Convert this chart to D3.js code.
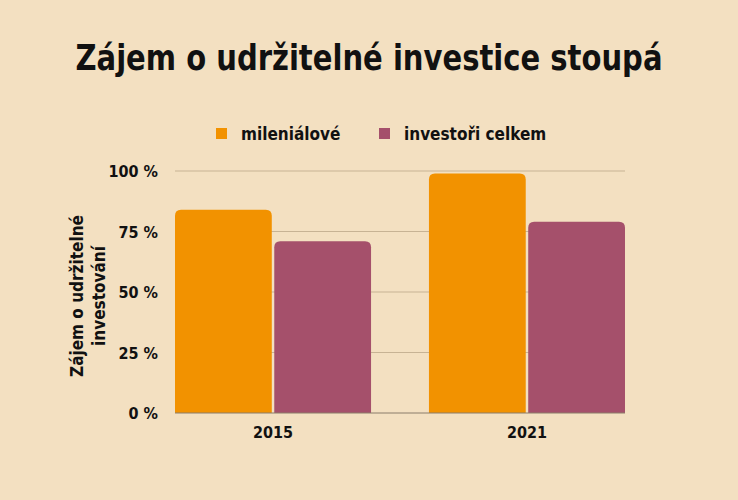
<!DOCTYPE html>
<html>
<head>
<meta charset="utf-8">
<script src="https://cdn.jsdelivr.net/npm/d3@7"></script>
<style>
  html, body { margin: 0; padding: 0; background: #f3e0c1; }
  svg { display: block; }
  text { font-family: "DejaVu Sans Condensed", "DejaVu Sans", sans-serif; font-weight: bold; fill: #111; }
</style>
</head>
<body>
<svg id="chart"></svg>
<script>
  var years = ["2015", "2021"]
  var seriesNames = ["mileniálové", "investoři celkem"]
  var millennials = [84, 99]
  var allInvestors = [71, 79]
  var yTicks = [0, 25, 50, 75, 100]
  var colors = ["#f29200", "#a5506b"]

  var width = 738, height = 500
  var svg = d3.select('#chart').attr('width', width).attr('height', height)

  var data = years.map(function (y, i) {
    return { year: y, values: [millennials[i], allInvestors[i]] }
  })

  var x0 = d3.scaleBand().domain(years).range([175, 625]).paddingInner(0.228).paddingOuter(0)
  var x1 = d3.scaleBand().domain(d3.range(seriesNames.length)).range([0, x0.bandwidth()]).paddingInner(0.025)
  var y = d3.scaleLinear().domain([0, 100]).range([413, 171])

  // title
  svg.append('text')
    .attr('x', width / 2).attr('y', 70)
    .attr('text-anchor', 'middle')
    .attr('font-size', 36)
    .attr('textLength', 587).attr('lengthAdjust', 'spacingAndGlyphs')
    .text('Zájem o udržitelné investice stoupá')

  // legend
  var legendX = [216, 379]
  var legend = svg.append('g').selectAll('g').data(seriesNames).enter().append('g')
    .attr('transform', function (d, i) { return 'translate(' + legendX[i] + ',128)' })
  legend.append('rect').attr('width', 11).attr('height', 11)
    .attr('fill', function (d, i) { return colors[i] })
  legend.append('text').attr('x', 25).attr('y', 12).attr('font-size', 17).text(function (d) { return d })

  // grid
  svg.append('g').selectAll('line').data(yTicks.filter(function (t) { return t > 0 })).enter().append('line')
    .attr('x1', 175).attr('x2', 625)
    .attr('y1', function (d) { return y(d) }).attr('y2', function (d) { return y(d) })
    .attr('stroke', '#c7b394').attr('stroke-width', 1)

  // y axis labels
  var yAxis = svg.append('g').attr('transform', 'translate(158,0)')
    .call(d3.axisLeft(y).tickValues(yTicks).tickSize(0).tickPadding(0).tickFormat(function (d) { return d + ' %' }))
  yAxis.select('.domain').remove()
  yAxis.selectAll('text').attr('font-size', 16).attr('font-family', null).attr('fill', '#111').attr('dy', '0.35em')

  // y axis title
  var yTitle = svg.append('text')
    .attr('transform', 'translate(86,296) rotate(-90)')
    .attr('text-anchor', 'middle').attr('font-size', 17)
  yTitle.append('tspan').attr('x', 0).attr('dy', '-0.2em').text('Zájem o udržitelné')
  yTitle.append('tspan').attr('x', 0).attr('dy', '1.3em').text('investování')

  // bars with rounded tops
  function topRounded(x, yTop, w, h, r) {
    return 'M' + x + ',' + (yTop + h) +
      'V' + (yTop + r) +
      'Q' + x + ',' + yTop + ' ' + (x + r) + ',' + yTop +
      'H' + (x + w - r) +
      'Q' + (x + w) + ',' + yTop + ' ' + (x + w) + ',' + (yTop + r) +
      'V' + (yTop + h) + 'Z'
  }

  var groups = svg.append('g').selectAll('g').data(data).enter().append('g')
    .attr('transform', function (d) { return 'translate(' + x0(d.year) + ',0)' })
  groups.selectAll('path').data(function (d) { return d.values }).enter().append('path')
    .attr('fill', function (d, i) { return colors[i] })
    .attr('d', function (d, i) {
      return topRounded(x1(i), y(d), x1.bandwidth(), y(0) - y(d), 6)
    })

  // baseline
  svg.append('line').attr('x1', 175).attr('x2', 625).attr('y1', y(0)).attr('y2', y(0))
    .attr('stroke', '#8a7d6a').attr('stroke-width', 1)

  // x axis labels
  var xAxis = svg.append('g').attr('transform', 'translate(0,' + (y(0) + 14) + ')')
    .call(d3.axisBottom(x0).tickSize(0).tickPadding(0))
  xAxis.select('.domain').remove()
  xAxis.selectAll('text').attr('font-size', 16).attr('font-family', null).attr('fill', '#111').attr('dy', '0.71em')
</script>
</body>
</html>
